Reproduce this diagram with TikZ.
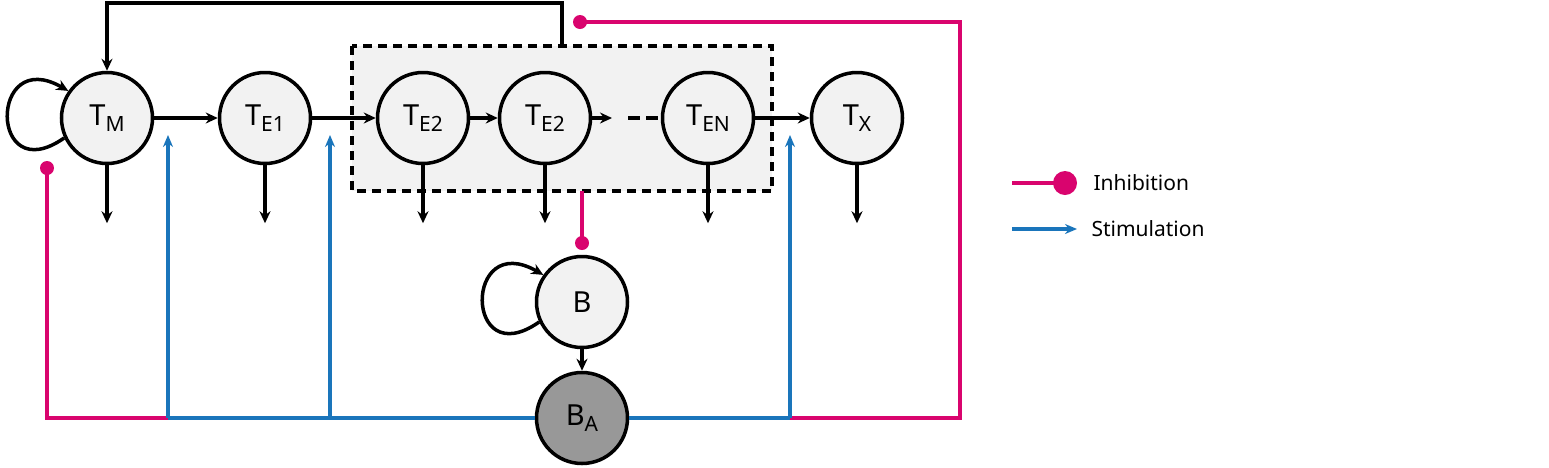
\documentclass[tikz,border=0pt]{standalone}
\usepackage{fontspec}
\setmainfont{Noto Sans}
\usetikzlibrary{arrows.meta}
\usetikzlibrary{positioning}
\definecolor{inhib}{HTML}{D9046E}
\definecolor{stim}{HTML}{1A75BB}
\definecolor{cellfill}{HTML}{F2F2F2}
\tikzset{
    cell/.style={
        draw,
        circle,
        line width=3.5pt,
        fill=cellfill,
        minimum size=91pt,
        inner sep=0pt,
        font=\fontsize{29}{32}\selectfont
    },
    flow/.style={
        draw,
        line width=3.5pt,
        -{Stealth[length=12pt, width=11pt]}
    },
    inh/.style={
        draw=inhib,
        line width=3.2pt
    },
    stm/.style={
        draw=stim,
        line width=3.2pt,
        -{Stealth[length=12pt, width=10pt]}
    }
}
\newcommand{\sub}[1]{\raisebox{-0.4ex}{\fontsize{21}{23}\selectfont #1}}
\begin{document}
\begin{tikzpicture}[x=1pt, y=-1pt]
    \useasboundingbox (0,0) rectangle (1549,467);
    % Compartment box
    \draw[line width=3.5pt, dash pattern=on 9pt off 6pt, fill=cellfill] (352,46) rectangle (772,191);
    % Cells
    \node[cell] (tm) at (107,118) {T\sub{M}};
    \node[cell] (te1) at (265,118) {T\sub{E1}};
    \node[cell] (te2a) at (423,118) {T\sub{E2}};
    \node[cell] (te2b) at (545,118) {T\sub{E2}};
    \node[cell] (ten) at (708,118) {T\sub{EN}};
    \node[cell] (tx) at (857,118) {T\sub{X}};
    \node[cell] (b) at (582,302) {B};
    \node[cell, fill=gray!85!black!70] (ba) at (582,418) {B\sub{A}};

    % Chain
    \draw[flow] (tm) -- (te1);
    \draw[flow] (te1) -- (te2a);
    \draw[flow] (te2a) -- (te2b);
    \coordinate (gap) at (612,118);
    \draw[flow] (te2b) -- (gap);
    \draw[line width=3.5pt, dash pattern=on 12pt off 6pt] (628,118) -- (ten);
    \draw[flow] (ten) -- (tx);
    \draw[flow] (b) -- (ba);

    % Outflow
    \foreach \c in {tm,te1,te2a,te2b,ten,tx}
        \draw[flow] (\c.south) -- ++(0,58);

    % Self renewal
    \draw[flow] (tm.205) to[out=215, in=150, looseness=5] (tm.145);
    \draw[flow] (b.205) to[out=215, in=150, looseness=5] (b.145);

    % Feedback to memory
    \coordinate (top) at (562,46);
    \draw[flow] (top) -- (562,3) -- (107,3) -- (tm.north);

    % Inhibition
    \coordinate (ib) at (582,191);
    \draw[inh] (ib) -- (582,243);
    \fill[inhib] (582,243) circle (7pt);
    \draw[inh] (ba.east) -- (960,418) -- (960,22) -- (580,22);
    \fill[inhib] (580,22) circle (7pt);
    \draw[inh] (168,418) -- (47,418) -- (47,168);
    \fill[inhib] (47,168) circle (7pt);

    % Stimulation
    \draw[stm, -] (168,418) -- (ba.west);
    \draw[stm, -] (ba.east) -- (790,418);
    \draw[stm] (168,418) -- (168,135);
    \draw[stm] (330,418) -- (330,135);
    \draw[stm] (790,418) -- (790,135);

    % Legend
    \draw[inh] (1012,183) -- (1065,183);
    \fill[inhib] (1065,183) circle (12pt);
    \node[anchor=west, font=\fontsize{21}{24}\selectfont] (linh) at (1090,183) {Inhibition};
    \draw[stm] (1012,229) -- (1077,229);
    \node[anchor=west, font=\fontsize{21}{24}\selectfont] (lstm) at (1088,229) {Stimulation};
\end{tikzpicture}
\end{document}
